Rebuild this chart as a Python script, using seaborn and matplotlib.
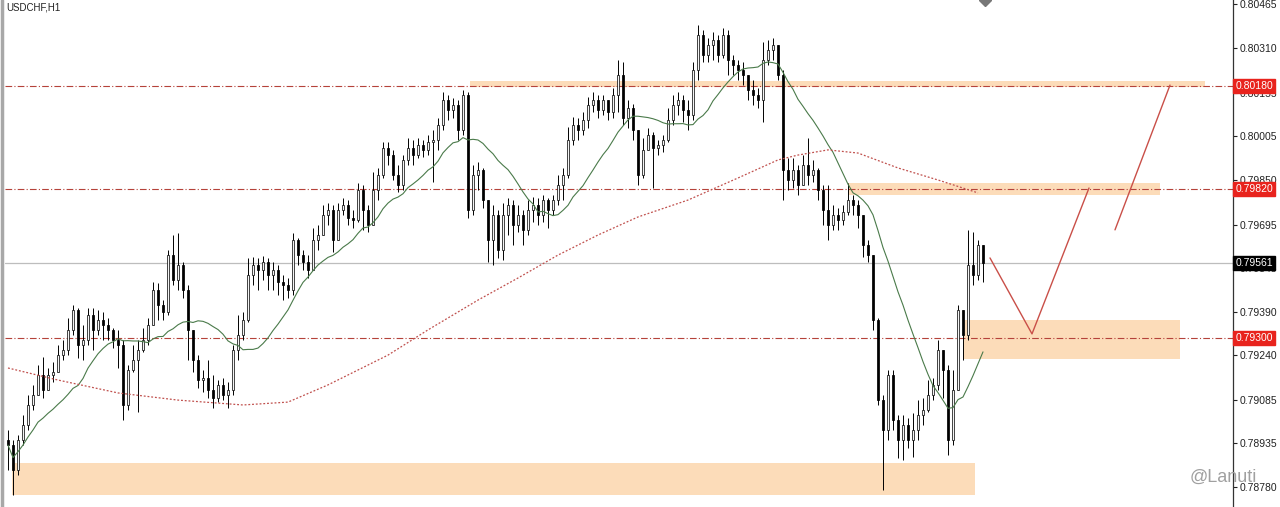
import numpy as np
import pandas as pd
import matplotlib.pyplot as plt
from matplotlib.patches import Rectangle
import seaborn as sns

# USDCHF H1 candles, prices in points (1e-5)
first_open = 78944
close = [78926, 78839, 78944, 78996, 79066, 79101, 79171, 79118, 79171, 79181,
         79240, 79258, 79328, 79397, 79275, 79293, 79380, 79328, 79362, 79345,
         79328, 79293, 79275, 79066, 79188, 79223, 79258, 79293, 79345, 79467,
         79415, 79390, 79589, 79502, 79554, 79467, 79328, 79223, 79153, 79160,
         79118, 79090, 79136, 79101, 79118, 79258, 79310, 79362, 79520, 79554,
         79537, 79565, 79520, 79537, 79495, 79485, 79467, 79642, 79589, 79565,
         79537, 79642, 79659, 79729, 79746, 79642, 79746, 79764, 79718, 79711,
         79816, 79746, 79694, 79816, 79868, 79963, 79938, 79868, 79834, 79921,
         79963, 79938, 79973, 79956, 79984, 79991, 80043, 80130, 80095, 80113,
         80025, 80148, 79746, 79868, 79886, 79781, 79642, 79729, 79607, 79729,
         79764, 79694, 79729, 79677, 79746, 79764, 79729, 79781, 79746, 79781,
         79834, 79868, 79991, 80043, 80025, 80060, 80113, 80130, 80095, 80130,
         80088, 80148, 80217, 80067, 80102, 80025, 79868, 79956, 80008, 79963,
         79973, 79991, 80060, 80113, 80130, 80095, 80078, 80235, 80357, 80287,
         80322, 80339, 80287, 80357, 80270, 80252, 80235, 80217, 80165, 80148,
         80130, 80270, 80305, 80322, 80217, 79886, 79851, 79886, 79834, 79903,
         79868, 79886, 79816, 79746, 79694, 79729, 79711, 79739, 79781, 79764,
         79729, 79624, 79589, 79362, 79083, 78979, 79171, 79014, 78944, 78996,
         78944, 78979, 79031, 79048, 79101, 79136, 79258, 79188, 78944, 79118,
         79397, 79310, 79554, 79520, 79624, 79561]
high = [78979, 78944, 78961, 79031, 79101, 79136, 79206, 79233, 79195, 79216,
        79275, 79293, 79369, 79415, 79404, 79345, 79404, 79404, 79397, 79390,
        79369, 79335, 79328, 79293, 79206, 79275, 79293, 79335, 79369, 79495,
        79492, 79432, 79607, 79659, 79666, 79565, 79485, 79328, 79240, 79188,
        79223, 79171, 79153, 79160, 79146, 79275, 79380, 79390, 79579, 79582,
        79579, 79586, 79579, 79565, 79554, 79520, 79509, 79666, 79649, 79607,
        79589, 79684, 79694, 79764, 79771, 79764, 79771, 79788, 79781, 79746,
        79841, 79834, 79764, 79879, 79893, 79984, 79984, 79956, 79903, 79938,
        79998, 79991, 79998, 79991, 80008, 80025, 80067, 80158, 80148, 80137,
        80130, 80165, 80158, 79903, 79914, 79893, 79781, 79764, 79746, 79771,
        79788, 79781, 79764, 79746, 79781, 79792, 79788, 79799, 79788, 79799,
        79868, 79893, 80036, 80071, 80067, 80088, 80141, 80158, 80148, 80148,
        80130, 80172, 80270, 80263, 80130, 80116, 80025, 79998, 80032, 80018,
        79991, 80008, 80102, 80148, 80158, 80148, 80130, 80263, 80392, 80374,
        80346, 80367, 80357, 80381, 80374, 80287, 80270, 80263, 80217, 80200,
        80172, 80332, 80339, 80346, 80322, 80235, 79928, 79928, 79903, 79938,
        79998, 79921, 79893, 79834, 79834, 79764, 79753, 79764, 79841, 79799,
        79781, 79729, 79642, 79589, 79369, 79101, 79188, 79188, 79031, 79031,
        79021, 79038, 79083, 79090, 79153, 79160, 79293, 79240, 79206, 79188,
        79415, 79362, 79677, 79670, 79642, 79614]
low = [78839, 78752, 78822, 78926, 78979, 79048, 79101, 79090, 79125, 79146,
       79195, 79223, 79240, 79310, 79230, 79223, 79275, 79258, 79310, 79293,
       79293, 79265, 79195, 79014, 79048, 79181, 79041, 79251, 79275, 79345,
       79362, 79362, 79380, 79485, 79467, 79439, 79223, 79181, 79125, 79111,
       79090, 79055, 79076, 79083, 79055, 79101, 79223, 79293, 79355, 79485,
       79467, 79502, 79467, 79467, 79450, 79432, 79439, 79450, 79554, 79537,
       79509, 79565, 79607, 79670, 79694, 79600, 79704, 79729, 79694, 79684,
       79704, 79677, 79670, 79729, 79781, 79858, 79903, 79851, 79809, 79816,
       79903, 79903, 79928, 79931, 79938, 79844, 79956, 80025, 80060, 80067,
       79991, 80008, 79718, 79729, 79816, 79753, 79565, 79554, 79579, 79572,
       79659, 79624, 79670, 79624, 79659, 79704, 79694, 79704, 79684, 79729,
       79764, 79781, 79858, 79973, 79991, 80008, 80032, 80088, 80067, 80078,
       80060, 80067, 80088, 80043, 80032, 79991, 79834, 79858, 79956, 79823,
       79938, 79949, 79984, 80043, 80078, 80053, 80025, 80060, 80200, 80263,
       80263, 80270, 80263, 80277, 80217, 80217, 80200, 80182, 80130, 80113,
       80102, 80053, 80252, 80270, 80200, 79781, 79816, 79823, 79799, 79834,
       79834, 79844, 79781, 79694, 79642, 79677, 79677, 79694, 79729, 79729,
       79684, 79582, 79565, 79328, 79066, 78769, 78944, 78979, 78881, 78874,
       78916, 78885, 78944, 78996, 79041, 79083, 79118, 79090, 78892, 78926,
       79275, 79223, 79293, 79485, 79502, 79495]

# slow moving average (red dotted), read at some candle indexes
ma_slow_idx = [0, 10, 22, 34, 47, 56, 64, 76, 84, 94, 102, 110, 118, 126,
               136, 146, 154, 158, 164, 170, 178, 186, 194]
ma_slow = [79195, 79153, 79108, 79083, 79066, 79076, 79136, 79240, 79328, 79432,
           79509, 79589, 79659, 79722, 79781, 79858, 79921, 79938, 79956, 79945,
           79893, 79851, 79806]

# levels and zones
levels = [0.80180, 0.79820, 0.79300]
last_price = 0.79561
zones = [  # (x0, x1, y0, y1)
    (92.4, 239.4, 0.80176, 0.80197),
    (168.0, 230.4, 0.79799, 0.79841),
    (191.0, 234.4, 0.79227, 0.79362),
    (0.8, 193.4, 0.78752, 0.78864),
]
path1_x = [196.4, 204.8, 216.2]
path1_y = [0.79579, 0.79314, 0.79823]
path2_x = [221.4, 232.4]
path2_y = [0.79677, 0.80182]

yticks = [0.80465, 0.80310, 0.80155, 0.80005, 0.79850, 0.79695, 0.79545,
          0.79390, 0.79240, 0.79085, 0.78935, 0.78780]

c = np.array(close) / 1e5
o = np.concatenate([[first_open / 1e5], c[:-1]])
h = np.maximum(np.array(high) / 1e5, np.maximum(o, c))
l = np.minimum(np.array(low) / 1e5, np.minimum(o, c))
x = np.arange(len(c))
df = pd.DataFrame({'x': x, 'open': o, 'high': h, 'low': l, 'close': c})
df['ma'] = df['close'].rolling(15, min_periods=1).mean()

sns.set_style('white')
plt.rcParams['font.family'] = ['Liberation Sans', 'DejaVu Sans']
fig = plt.figure(figsize=(12.8, 5.07), dpi=100)
ax = fig.add_axes([5 / 1280, 0, 1228 / 1280, 1])

for x0, x1, y0, y1 in zones:
    ax.add_patch(Rectangle((x0, y0), x1 - x0, y1 - y0, color='#fcd9b2',
                           alpha=0.9, lw=0, zorder=0.5))

for lv in levels:
    ax.axhline(lv, color='#b5423a', lw=0.8, ls=(0, (6, 2, 1, 2)), zorder=1)
ax.axhline(last_price, color='#bdbdbd', lw=0.9, zorder=1)

ax.vlines(df['x'], df['low'], df['high'], color='black', lw=0.7, zorder=3)
up = df['close'] >= df['open']
body = (df['close'] - df['open']).abs().clip(lower=0.000025)
bottom = df[['open', 'close']].min(axis=1)
ax.bar(df['x'][up], body[up], bottom=bottom[up], width=0.55,
       color='#f4f4f4', edgecolor='#111111', lw=0.55, zorder=3.5)
ax.bar(df['x'][~up], body[~up], bottom=bottom[~up], width=0.55,
       color='black', edgecolor='black', lw=0.55, zorder=3.5)

sns.lineplot(data=df, x='x', y='ma', color='#4a7a4a', lw=0.8, ax=ax, zorder=4)
ax.plot(ma_slow_idx, np.array(ma_slow) / 1e5, color='#c0504d', lw=0.9,
        ls=(0, (1.5, 1.5)), zorder=4)

ax.plot(path1_x, path1_y, color='#c94f48', lw=1.0, zorder=4)
ax.plot(path2_x, path2_y, color='#c94f48', lw=1.0, zorder=4)

ax.set_xlim(-0.6, 245)
ax.set_ylim(0.78710, 0.80479)
ax.set_xlabel('')
ax.set_ylabel('')
ax.set_xticks([])
ax.yaxis.tick_right()
ax.set_yticks(yticks)
ax.set_yticklabels([f'{v:.5f}' for v in yticks])
ax.tick_params(axis='y', right=True, length=3, width=0.8, labelsize=7.5, pad=2,
               colors='#222222')
for s in ['top', 'left', 'bottom']:
    ax.spines[s].set_visible(False)
ax.spines['right'].set_color('#333333')
ax.spines['right'].set_linewidth(0.9)

tr = ax.get_yaxis_transform()
for lv in levels:
    ax.text(1.002, lv, f'{lv:.5f}', transform=tr, color='white', fontsize=7.5,
            va='center', ha='left', zorder=10,
            bbox=dict(boxstyle='square,pad=0.2', fc='#e8231d', ec='#e8231d'))
ax.text(1.002, last_price, f'{last_price:.5f}', transform=tr, color='white',
        fontsize=7.5, va='center', ha='left', zorder=10,
        bbox=dict(boxstyle='square,pad=0.2', fc='black', ec='black'))

ax.plot([195.4], [0.80479], marker='D', ms=6, color='#777777', clip_on=True)

fig.add_artist(plt.Line2D([2 / 1280, 2 / 1280], [0, 1], color='#a8a8a8', lw=2.5))
fig.text(6 / 1280, 1 - 3 / 507, 'USDCHF,H1', fontsize=7, va='top', ha='left',
         color='#222222')
fig.text(1190 / 1280, 1 - 477 / 507, '@Lanuti', fontsize=13, va='center',
         ha='left', color='#a0a0a0')

fig.savefig('out.png', dpi=100)
